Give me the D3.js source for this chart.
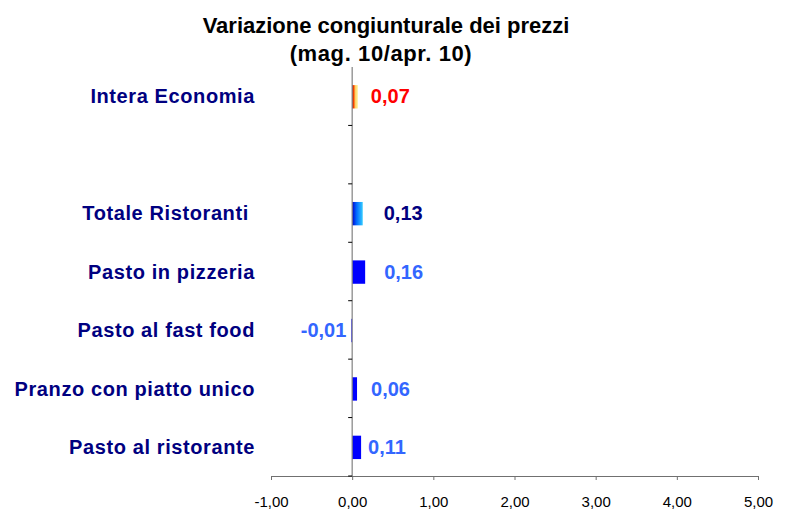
<!DOCTYPE html>
<html>
<head>
<meta charset="utf-8">
<script src="https://cdn.jsdelivr.net/npm/d3@7"></script>
<style>
  body { margin: 0; background: #fff; }
  svg { display: block; font-family: Arial, "Liberation Sans", sans-serif; }
</style>
</head>
<body>
<svg id="chart" width="785" height="509"></svg>
<script>
// dati del grafico
const categories = [
  "Intera Economia",
  "",
  "Totale Ristoranti ",
  "Pasto in pizzeria",
  "Pasto al fast food",
  "Pranzo con piatto unico",
  "Pasto al ristorante"
];
const values = [0.07, null, 0.13, 0.16, -0.01, 0.06, 0.11];
const valueLabels = ["0,07", "", "0,13", "0,16", "-0,01", "0,06", "0,11"];
const xTicks = [-1, 0, 1, 2, 3, 4, 5];
const titleLines = ["Variazione congiunturale dei prezzi", "(mag. 10/apr. 10)"];

// stile per barra (riempimento e colore etichetta)
const barFill = ["url(#gradFire)", "none", "url(#gradBlue)", "#0000FF", "#0000FF", "#0000FF", "#0000FF"];
const labelColor = ["#FF0000", "none", "#000080", "#3366FF", "#3366FF", "#3366FF", "#3366FF"];
// spostamento orizzontale delle etichette (come posizionate a mano in Excel)
const labelNudge = [13, 0, 21, 19, -5, 14, 7];

const svg = d3.select("#chart");

const defs = svg.append("defs");
const fire = defs.append("linearGradient").attr("id", "gradFire");
fire.append("stop").attr("offset", "0%").attr("stop-color", "#B00000");
fire.append("stop").attr("offset", "30%").attr("stop-color", "#FF5000");
fire.append("stop").attr("offset", "55%").attr("stop-color", "#FFD060");
fire.append("stop").attr("offset", "100%").attr("stop-color", "#FFF3A0");
const blue = defs.append("linearGradient").attr("id", "gradBlue");
blue.append("stop").attr("offset", "0%").attr("stop-color", "#0000CC");
blue.append("stop").attr("offset", "40%").attr("stop-color", "#0066FF");
blue.append("stop").attr("offset", "100%").attr("stop-color", "#33CCFF");

const x = d3.scaleLinear().domain([-1, 5]).range([271, 758]);
const y = d3.scaleBand().domain(d3.range(categories.length)).range([67, 476]).padding(0);
const bw = y.bandwidth();

// titolo
svg.append("g").selectAll("text")
  .data(titleLines)
  .enter().append("text")
  .attr("x", (d, i) => i === 0 ? 386 : 381)
  .attr("y", (d, i) => 33 + i * 28)
  .attr("text-anchor", "middle")
  .attr("font-size", 22)
  .attr("font-weight", "bold")
  .attr("letter-spacing", (d, i) => i === 0 ? 0 : 0.6)
  .attr("fill", "#000")
  .text(d => d);

// barre
svg.append("g").selectAll("rect")
  .data(values.map((v, i) => ({ v, i })).filter(d => d.v !== null))
  .enter().append("rect")
  .attr("x", d => x(Math.min(0, d.v)))
  .attr("width", d => Math.abs(x(d.v) - x(0)))
  .attr("y", d => y(d.i) + bw * 0.31)
  .attr("height", bw * 0.4)
  .attr("fill", d => barFill[d.i]);

// asse x
const xAxis = svg.append("g")
  .attr("transform", "translate(0,476)")
  .call(d3.axisBottom(x).tickValues(xTicks).tickSize(4).tickSizeOuter(0)
    .tickFormat(d => d3.format(".2f")(d).replace(".", ",").replace("\u2212", "-")));
xAxis.select(".domain").attr("stroke", "#707070");
xAxis.selectAll(".tick line").attr("stroke", "#707070");
xAxis.selectAll(".tick text")
  .attr("font-family", "Arial, 'Liberation Sans', sans-serif")
  .attr("font-size", 15)
  .attr("fill", "#000")
  .attr("dy", null)
  .attr("y", 31);

// asse y (sullo zero)
const yAxis = svg.append("g").attr("transform", `translate(${x(0)},0)`);
yAxis.append("line")
  .attr("y1", y.range()[0]).attr("y2", y.range()[1])
  .attr("stroke", "#808080").attr("stroke-width", 1.2);
yAxis.selectAll(".ytick")
  .data(d3.range(1, categories.length + 1))
  .enter().append("line")
  .attr("class", "ytick")
  .attr("x1", -4).attr("x2", 0)
  .attr("y1", d => y.range()[0] + d * bw)
  .attr("y2", d => y.range()[0] + d * bw)
  .attr("stroke", "#000");

// etichette delle categorie
svg.append("g").selectAll("text")
  .data(categories)
  .enter().append("text")
  .attr("x", 255)
  .attr("y", (d, i) => y(i) + bw / 2)
  .attr("dy", "0.36em")
  .attr("text-anchor", "end")
  .attr("font-size", 20)
  .attr("font-weight", "bold")
  .attr("letter-spacing", 0.6)
  .attr("fill", "#000080")
  .style("white-space", "pre")
  .text(d => d);

// etichette dei valori
svg.append("g").selectAll("text")
  .data(values.map((v, i) => ({ v, i })).filter(d => d.v !== null))
  .enter().append("text")
  .attr("x", d => x(d.v) + labelNudge[d.i])
  .attr("y", d => y(d.i) + bw / 2)
  .attr("dy", "0.36em")
  .attr("text-anchor", d => d.v < 0 ? "end" : "start")
  .attr("font-size", 20)
  .attr("font-weight", "bold")
  .attr("fill", d => labelColor[d.i])
  .text(d => valueLabels[d.i]);
</script>
</body>
</html>
